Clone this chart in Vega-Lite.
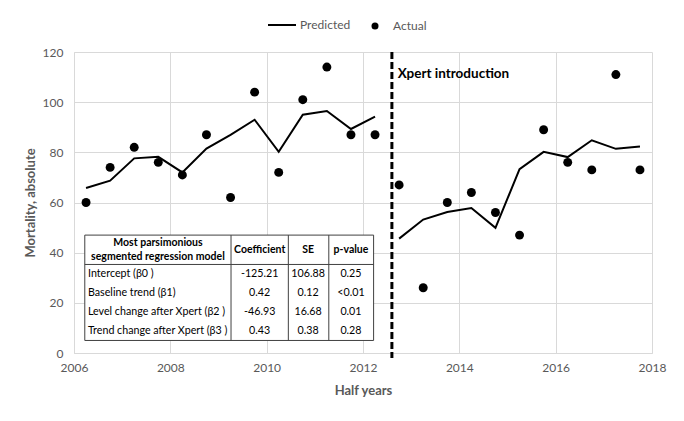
{
  "$schema": "https://vega.github.io/schema/vega-lite/v6.json",
  "width": 578,
  "height": 301,
  "autosize": {"type": "none"},
  "padding": {"left": 74, "top": 52, "right": 32, "bottom": 68},
  "background": "white",
  "config": {
    "font": "Lato",
    "view": {"stroke": null},
    "axis": {
      "labelFont": "Lato",
      "labelFontSize": 12,
      "labelColor": "#595959",
      "titleFont": "Lato",
      "titleColor": "#595959",
      "titleFontSize": 13,
      "titleFontWeight": "bold",
      "gridColor": "#d9d9d9",
      "domainColor": "#d9d9d9",
      "ticks": false,
      "labelFlush": false
    },
    "legend": {
      "labelFont": "Lato",
      "labelFontSize": 12,
      "labelColor": "#595959",
      "padding": 0
    }
  },
  "datasets": {
    "series": [
      {"t": 2006.25, "actual": 60, "predicted": 65.8, "period": "pre"},
      {"t": 2006.75, "actual": 74, "predicted": 68.7, "period": "pre"},
      {"t": 2007.25, "actual": 82, "predicted": 77.6, "period": "pre"},
      {"t": 2007.75, "actual": 76, "predicted": 78.2, "period": "pre"},
      {"t": 2008.25, "actual": 71, "predicted": 72.0, "period": "pre"},
      {"t": 2008.75, "actual": 87, "predicted": 81.5, "period": "pre"},
      {"t": 2009.25, "actual": 62, "predicted": 87.0, "period": "pre"},
      {"t": 2009.75, "actual": 104, "predicted": 93.0, "period": "pre"},
      {"t": 2010.25, "actual": 72, "predicted": 80.2, "period": "pre"},
      {"t": 2010.75, "actual": 101, "predicted": 95.0, "period": "pre"},
      {"t": 2011.25, "actual": 114, "predicted": 96.5, "period": "pre"},
      {"t": 2011.75, "actual": 87, "predicted": 89.3, "period": "pre"},
      {"t": 2012.25, "actual": 87, "predicted": 94.2, "period": "pre"},
      {"t": 2012.75, "actual": 67, "predicted": 45.6, "period": "post"},
      {"t": 2013.25, "actual": 26, "predicted": 53.2, "period": "post"},
      {"t": 2013.75, "actual": 60, "predicted": 56.2, "period": "post"},
      {"t": 2014.25, "actual": 64, "predicted": 57.8, "period": "post"},
      {"t": 2014.75, "actual": 56, "predicted": 49.9, "period": "post"},
      {"t": 2015.25, "actual": 47, "predicted": 73.3, "period": "post"},
      {"t": 2015.75, "actual": 89, "predicted": 80.2, "period": "post"},
      {"t": 2016.25, "actual": 76, "predicted": 78.1, "period": "post"},
      {"t": 2016.75, "actual": 73, "predicted": 84.8, "period": "post"},
      {"t": 2017.25, "actual": 111, "predicted": 81.4, "period": "post"},
      {"t": 2017.75, "actual": 73, "predicted": 82.3, "period": "post"}
    ],
    "table": [
      {"term": "Intercept (β0 )", "coef": "-125.21", "se": "106.88", "p": "0.25"},
      {"term": "Baseline trend (β1)", "coef": "0.42", "se": "0.12", "p": "<0.01"},
      {"term": "Level change after Xpert (β2 )", "coef": "-46.93", "se": "16.68", "p": "0.01"},
      {"term": "Trend change after Xpert (β3 )", "coef": "0.43", "se": "0.38", "p": "0.28"}
    ]
  },
  "layer": [
    {
      "data": {"name": "series"},
      "layer": [
        {
          "mark": {"type": "line", "strokeWidth": 2},
          "encoding": {
            "x": {
              "field": "t", "type": "quantitative",
              "scale": {"domain": [2006, 2018], "nice": false, "zero": false},
              "axis": {"values": [2006, 2008, 2010, 2012, 2014, 2016, 2018], "format": "d", "title": "Half years", "labelPadding": 9, "titlePadding": 11, "domain": true}
            },
            "y": {
              "field": "predicted", "type": "quantitative",
              "scale": {"domain": [0, 120], "nice": false},
              "axis": {"values": [0, 20, 40, 60, 80, 100, 120], "title": "Mortality, absolute", "labelPadding": 11, "titlePadding": 5, "domain": true}
            },
            "detail": {"field": "period"},
            "color": {
              "datum": "Predicted", "type": "nominal",
              "scale": {"domain": ["Predicted"], "range": ["black"]},
              "legend": {
                "title": null,
                "orient": "none",
                "legendX": 193,
                "legendY": -42,
                "symbolType": "stroke",
                "symbolSize": 784,
                "symbolStrokeWidth": 2,
                "labelOffset": 3
              }
            }
          }
        },
        {
          "mark": {"type": "point", "filled": true, "color": "black", "opacity": 1, "size": 80},
          "encoding": {
            "x": {"field": "t", "type": "quantitative"},
            "y": {"field": "actual", "type": "quantitative"},
            "shape": {
              "datum": "Actual", "type": "nominal",
              "scale": {"domain": ["Actual"], "range": ["circle"]},
              "legend": {
                "title": null,
                "orient": "none",
                "legendX": 295,
                "legendY": -32,
                "symbolSize": 49,
                "symbolFillColor": "black",
                "symbolOpacity": 1,
                "labelOffset": 12
              }
            }
          }
        },
        {
          "data": {"values": [{}]},
          "mark": {"type": "rule", "color": "black", "strokeWidth": 3, "strokeDash": [7, 3]},
          "encoding": {"x": {"datum": 2012.6}, "y": {"datum": 120}, "y2": {"datum": -2}}
        },
        {
          "data": {"values": [{}]},
          "mark": {"type": "text", "text": "Xpert introduction", "align": "left", "baseline": "middle", "fontWeight": "bold", "fontSize": 13.5, "color": "black"},
          "encoding": {"x": {"datum": 2012.72}, "y": {"datum": 111.2}}
        },
        {
          "data": {"values": [{}]},
          "mark": {"type": "rect", "fill": "white", "stroke": "#404040", "strokeWidth": 1},
          "encoding": {"x": {"datum": 2006.224}, "x2": {"datum": 2012.22}, "y": {"datum": 47.0}, "y2": {"datum": 5.0}}
        },
        {
          "data": {"values": [{}]},
          "mark": {"type": "rule", "color": "#404040", "strokeWidth": 1},
          "encoding": {"x": {"datum": 2009.26}, "y": {"datum": 47.0}, "y2": {"datum": 5.0}}
        },
        {
          "data": {"values": [{}]},
          "mark": {"type": "rule", "color": "#404040", "strokeWidth": 1},
          "encoding": {"x": {"datum": 2010.45}, "y": {"datum": 47.0}, "y2": {"datum": 5.0}}
        },
        {
          "data": {"values": [{}]},
          "mark": {"type": "rule", "color": "#404040", "strokeWidth": 1},
          "encoding": {"x": {"datum": 2011.29}, "y": {"datum": 47.0}, "y2": {"datum": 5.0}}
        },
        {
          "data": {"values": [{}]},
          "mark": {"type": "rule", "color": "#404040", "strokeWidth": 1},
          "encoding": {"x": {"datum": 2006.224}, "x2": {"datum": 2012.22}, "y": {"datum": 35.3}}
        },
        {
          "data": {"values": [{}]},
          "mark": {"type": "text", "text": ["Most parsimonious", "segmented regression model"], "align": "center", "baseline": "middle", "fontWeight": "bold", "fontSize": 10.5, "lineHeight": 14.6, "color": "black"},
          "encoding": {"x": {"datum": 2007.743}, "y": {"datum": 43.9}}
        },
        {
          "data": {"values": [{}]},
          "mark": {"type": "text", "text": "Coefficient", "align": "center", "baseline": "middle", "fontWeight": "bold", "fontSize": 10.5, "color": "black"},
          "encoding": {"x": {"datum": 2009.855}, "y": {"datum": 41.1}}
        },
        {
          "data": {"values": [{}]},
          "mark": {"type": "text", "text": "SE", "align": "center", "baseline": "middle", "fontWeight": "bold", "fontSize": 10.5, "color": "black"},
          "encoding": {"x": {"datum": 2010.86}, "y": {"datum": 41.1}}
        },
        {
          "data": {"values": [{}]},
          "mark": {"type": "text", "text": "p-value", "align": "center", "baseline": "middle", "fontWeight": "bold", "fontSize": 10.5, "color": "black"},
          "encoding": {"x": {"datum": 2011.75}, "y": {"datum": 41.1}}
        }
      ]
    },
    {
      "data": {"name": "table"},
      "encoding": {
        "y": {
          "field": "term", "type": "nominal",
          "scale": {"type": "band", "domain": ["Intercept (β0 )", "Baseline trend (β1)", "Level change after Xpert (β2 )", "Trend change after Xpert (β3 )"], "range": [212.6, 289], "paddingInner": 0, "paddingOuter": 0},
          "axis": null
        }
      },
      "layer": [
        {
          "mark": {"type": "text", "align": "left", "baseline": "middle", "fontSize": 10.7, "color": "black"},
          "encoding": {"x": {"datum": 2006.29}, "text": {"field": "term"}}
        },
        {
          "mark": {"type": "text", "align": "center", "baseline": "middle", "fontSize": 10.7, "color": "black"},
          "encoding": {"x": {"datum": 2009.855}, "text": {"field": "coef"}}
        },
        {
          "mark": {"type": "text", "align": "center", "baseline": "middle", "fontSize": 10.7, "color": "black"},
          "encoding": {"x": {"datum": 2010.86}, "text": {"field": "se"}}
        },
        {
          "mark": {"type": "text", "align": "center", "baseline": "middle", "fontSize": 10.7, "color": "black"},
          "encoding": {"x": {"datum": 2011.75}, "text": {"field": "p"}}
        }
      ]
    }
  ],
  "resolve": {"scale": {"y": "independent"}}
}
